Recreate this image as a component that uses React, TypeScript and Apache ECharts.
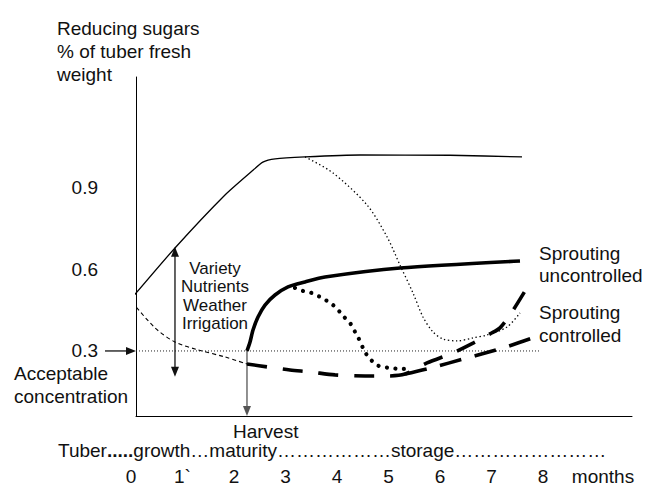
import React, { useEffect, useRef } from "react";
import * as echarts from "echarts";

// ---- data (x in months, y in % of tuber fresh weight) ----
const xTickValues = [0, 1, 2, 3, 4, 5, 6, 7, 8, 9.165];
const xTickLabels = ["0", "1`", "2", "3", "4", "5", "6", "7", "8", "months"];
const yTickValues = [0.3, 0.6, 0.9];

const growthUpper = [
  [0, 0.491], [0.854, 0.679], [1.825, 0.874], [2.35, 0.962], [2.56, 0.995], [2.8, 1.007],
  [3.379, 1.014], [4.447, 1.021], [6.194, 1.02], [7.592, 1.014],
];
const growthLower = [
  [0.02, 0.48], [0.466, 0.385], [0.854, 0.333], [1.301, 0.304], [1.825, 0.278], [2.252, 0.252],
];
const storageHigh = [
  [2.252, 0.3], [2.311, 0.333], [2.369, 0.377], [2.466, 0.425], [2.602, 0.469], [2.796, 0.506],
  [3.049, 0.536], [3.379, 0.554], [3.767, 0.572], [5.223, 0.605], [7.553, 0.631],
];
const storageDecline = [
  [3.184, 0.532], [3.34, 0.521], [3.515, 0.513], [3.67, 0.499], [3.806, 0.484], [3.922, 0.469],
  [4.039, 0.447], [4.136, 0.425], [4.252, 0.403], [4.33, 0.377], [4.408, 0.351], [4.544, 0.296],
  [4.641, 0.271], [4.777, 0.248], [4.893, 0.241], [5.068, 0.237], [5.223, 0.234], [5.379, 0.234],
];
const plateauDecline = [
  [3.379, 1.014], [3.922, 0.955], [4.583, 0.837], [4.971, 0.72], [5.223, 0.616], [5.476, 0.513],
  [5.67, 0.425], [5.864, 0.37], [6.058, 0.344], [6.33, 0.337], [6.641, 0.348], [6.913, 0.359],
  [7.301, 0.388], [7.553, 0.44],
];
const sproutingUncontrolled = [
  [2.252, 0.252], [2.66, 0.241], [3.087, 0.23], [3.476, 0.223], [3.961, 0.212], [4.544, 0.208],
  [4.971, 0.208], [5.32, 0.215], [5.748, 0.256], [6.252, 0.293], [6.641, 0.329], [6.971, 0.363],
  [7.165, 0.385], [7.398, 0.444], [7.709, 0.539],
];
const sproutingControlled = [
  [5.32, 0.215], [5.806, 0.237], [6.524, 0.274], [7.223, 0.311], [7.845, 0.351],
];
const acceptableLine = [
  [0.0971, 0.3], [7.94, 0.3],
];

// annotation arrows
const arrows: { from: number[]; to: number[]; both: boolean; color: string }[] = [
  { from: [-0.505, 0.3], to: [0.0971, 0.3], both: false, color: "#111" },
  { from: [0.854, 0.205], to: [0.854, 0.683], both: true, color: "#111" },
  { from: [2.252, 0.3], to: [2.252, 0.0607], both: false, color: "#555" },
];

const FONT = "'Liberation Sans', Arial, Helvetica, sans-serif";
const INK = "#111";

export default function App() {
  const ref = useRef<HTMLDivElement>(null);

  useEffect(() => {
    if (!ref.current) return;
    const chart = echarts.init(ref.current, null, { renderer: "svg" });

    const thick = 3.6;
    const option: any = {
      animation: false,
      backgroundColor: "#fff",
      textStyle: { fontFamily: FONT, color: INK },
      grid: [
        { left: 136, right: 20, top: 77, bottom: 70 },
        { left: 131, right: 20, top: 77, bottom: 70 },
      ],
      xAxis: [
        {
          gridIndex: 0, type: "value", min: 0.0971, max: 9.728,
          axisLine: { show: true, lineStyle: { color: "#000", width: 1 } },
          axisTick: { show: false }, axisLabel: { show: false }, splitLine: { show: false },
        },
        {
          gridIndex: 1, type: "value", min: 0, max: 9.728,
          axisLine: { show: false }, axisTick: { show: false }, splitLine: { show: false },
          axisLabel: {
            customValues: xTickValues,
            margin: 52,
            fontSize: 19,
            color: INK,
            fontFamily: FONT,
            formatter: (v: number) => {
              let best = 0;
              for (let i = 0; i < xTickValues.length; i++) {
                if (Math.abs(xTickValues[i] - v) < Math.abs(xTickValues[best] - v)) best = i;
              }
              return xTickLabels[best];
            },
          },
        },
      ],
      yAxis: [
        {
          gridIndex: 0, type: "value", min: 0.0607, max: 1.308,
          axisLine: { show: true, lineStyle: { color: "#000", width: 1 } },
          axisTick: { show: false }, splitLine: { show: false },
          axisLabel: {
            customValues: yTickValues,
            margin: 38,
            fontSize: 19,
            color: INK,
            fontFamily: FONT,
            formatter: (v: number) => v.toFixed(1),
          },
        },
        { gridIndex: 1, type: "value", min: 0, max: 1, show: false },
      ],
      series: [
        {
          type: "line", data: acceptableLine, symbol: "none", clip: false,
          lineStyle: { color: "#222", width: 1, type: [1, 2] },
        },
        {
          type: "line", data: growthUpper, symbol: "none", clip: false, smooth: 0.2,
          lineStyle: { color: "#000", width: 1.3 },
        },
        {
          type: "line", data: growthLower, symbol: "none", clip: false, smooth: 0.3,
          lineStyle: { color: "#000", width: 1.1, type: [4, 3] },
        },
        {
          type: "line", data: plateauDecline, symbol: "none", clip: false, smooth: 0.3,
          lineStyle: { color: "#000", width: 1.3, type: [1.4, 2.6] },
        },
        {
          type: "line", data: storageHigh, symbol: "none", clip: false, smooth: 0.25,
          lineStyle: { color: "#000", width: thick },
        },
        {
          type: "line", data: storageDecline, symbol: "none", clip: false, smooth: 0.3,
          lineStyle: { color: "#000", width: 4.2, type: [0.01, 8.5], cap: "round" },
        },
        {
          type: "line", data: sproutingUncontrolled, symbol: "none", clip: false, smooth: 0.3,
          lineStyle: { color: "#000", width: thick, type: [20, 16] },
        },
        {
          type: "line", data: sproutingControlled, symbol: "none", clip: false, smooth: 0.3,
          lineStyle: { color: "#000", width: thick, type: [22, 14] },
        },
      ],
    };
    chart.setOption(option);

    const txt = (text: string, x: number, y: number, extra: any = {}) => ({
      type: "text",
      x,
      y,
      style: {
        text,
        fontSize: 19,
        lineHeight: 23,
        fontFamily: FONT,
        fill: INK,
        align: "left",
        verticalAlign: "top",
        ...extra,
      },
    });

    const graphics: any[] = [
      txt("Reducing sugars\n% of tuber fresh\nweight", 57, 17),
      txt("Variety\nNutrients\nWeather\nIrrigation", 215, 259, { fontSize: 17, lineHeight: 18.5, align: "center" }),
      txt("Sprouting\nuncontrolled", 539, 242, { lineHeight: 22.5 }),
      txt("Sprouting\ncontrolled", 539, 300.5),
      txt("Acceptable\nconcentration", 14, 361.5),
      txt("Harvest", 233, 421.5, { lineHeight: 19 }),
      {
        type: "text",
        x: 58,
        y: 440.5,
        style: {
          text: "Tuber{b|.....}growth…maturity………………storage……………………",
          fontSize: 19,
          lineHeight: 19,
          fontFamily: FONT,
          fill: INK,
          align: "left",
          verticalAlign: "top",
          rich: { b: { fontWeight: "bold", fontSize: 19, fontFamily: FONT, fill: INK } },
        },
      },
    ];

    const head = (tip: number[], dx: number, dy: number, color: string) => {
      const len = 10, w = 4;
      const bx = tip[0] - dx * len, by = tip[1] - dy * len;
      const nx = -dy, ny = dx;
      return {
        type: "polygon",
        shape: { points: [[tip[0], tip[1]], [bx + nx * w, by + ny * w], [bx - nx * w, by - ny * w]] },
        style: { fill: color },
      };
    };

    arrows.forEach((a) => {
      const p0 = chart.convertToPixel({ gridIndex: 0 } as any, a.from) as number[];
      const p1 = chart.convertToPixel({ gridIndex: 0 } as any, a.to) as number[];
      const L = Math.hypot(p1[0] - p0[0], p1[1] - p0[1]);
      const dx = (p1[0] - p0[0]) / L, dy = (p1[1] - p0[1]) / L;
      const s = a.both ? [p0[0] + dx * 9, p0[1] + dy * 9] : p0;
      const e = [p1[0] - dx * 9, p1[1] - dy * 9];
      graphics.push({
        type: "line",
        shape: { x1: s[0], y1: s[1], x2: e[0], y2: e[1] },
        style: { stroke: a.color, lineWidth: 1.3 },
      });
      graphics.push(head(p1, dx, dy, a.color));
      if (a.both) graphics.push(head(p0, -dx, -dy, a.color));
    });

    chart.setOption({ graphic: graphics });

    return () => chart.dispose();
  }, []);

  return (
    <div
      ref={ref}
      style={{ position: "fixed", left: 0, top: 0, width: 652, height: 486, background: "#fff" }}
    />
  );
}
